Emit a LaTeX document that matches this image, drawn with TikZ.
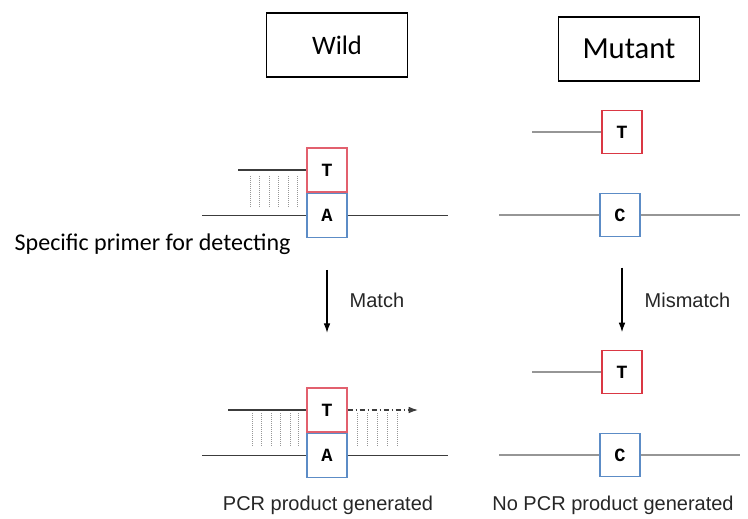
\documentclass[tikz,border=0pt]{standalone}
\usepackage{fontspec}
\usetikzlibrary{arrows.meta, positioning}
\newfontfamily\calfont{Carlito}
\newfontfamily\helfont{Liberation Sans}
\newfontfamily\courfont{Liberation Mono}
\definecolor{wildred}{RGB}{226, 96, 110}
\definecolor{mutantred}{RGB}{218, 56, 68}
\definecolor{baseblue}{RGB}{92, 140, 198}
\definecolor{strand}{RGB}{60, 60, 60}
\definecolor{mutgray}{RGB}{150, 150, 150}
\definecolor{hbond}{RGB}{150, 150, 150}

\begin{document}
\begin{tikzpicture}[
    x=0.75pt, y=-0.75pt,
    title/.style={
        rectangle, draw, line width=0.8pt,
        minimum width=106pt, minimum height=48pt
    },
    basebox/.style={
        rectangle, draw, fill=white, line width=0.9pt, inner sep=0pt,
        minimum width=30pt, minimum height=33pt,
        font=\courfont\bfseries\fontsize{14}{16}\selectfont
    },
    lbl/.style={font=\helfont\fontsize{15}{18}\selectfont, text=black!85},
    wline/.style={strand, line width=0.9pt},
    mline/.style={mutgray, line width=1pt},
    bond/.style={hbond, densely dotted, line width=0.5pt},
    flow/.style={-{Latex[length=7pt,width=5pt]}, line width=0.8pt}
]
    \useasboundingbox (0,0) rectangle (748,518);

    % headings
    \node[title, font=\calfont\fontsize{20}{24}\selectfont] (wild)   at (337,45) {Wild};
    \node[title, font=\calfont\fontsize{23}{27}\selectfont] (mutant) at (629,49) {Mutant};

    % wild type, before
    \node[basebox, draw=wildred]  (wT1) at (327,170) {T};
    \node[basebox, draw=baseblue, below=0pt of wT1] (wA1) {A};
    \coordinate (wP1) at (238,0 |- wT1);
    \coordinate (wL1) at (202,0 |- wA1);
    \coordinate (wR1) at (448,0 |- wA1);
    \draw[wline] (wP1) -- (wT1);
    \draw[wline] (wL1) -- (wA1);
    \draw[wline] (wA1) -- (wR1);
    \foreach \x in {250,259.5,269,278.5,288,297.5}
        \draw[bond] (\x,176) -- (\x,207);

    \node[font=\calfont\fontsize{18}{22}\selectfont, anchor=west] (primer) at (10,244) {Specific primer for detecting};

    % wild type, after
    \node[basebox, draw=wildred]  (wT2) at (327,410) {T};
    \node[basebox, draw=baseblue, below=0pt of wT2] (wA2) {A};
    \coordinate (wP2) at (228,0 |- wT2);
    \coordinate (wE2) at (418,0 |- wT2);
    \coordinate (wL2) at (202,0 |- wA2);
    \coordinate (wR2) at (448,0 |- wA2);
    \draw[wline] (wP2) -- (wT2);
    \draw[wline, -{Latex[length=7pt,width=5pt]}, dash pattern=on 4pt off 2pt on 1pt off 2pt] (wT2) -- (wE2);
    \draw[wline] (wL2) -- (wA2);
    \draw[wline] (wA2) -- (wR2);
    \foreach \x in {252,261.5,271,280.5,290,298}
        \draw[bond] (\x,413) -- (\x,447);
    \foreach \x in {357,367,377,387,397}
        \draw[bond] (\x,413) -- (\x,447);

    \draw[flow, shorten <=24pt, shorten >=41pt] (wA1.south) -- (wT2.north);
    \node[lbl, anchor=west] (match) at (345,300) {Match};
    \node[lbl] (pcr) at (328,505) {PCR product generated};

    % mutant, before
    \node[basebox, draw=mutantred, minimum height=32pt] (mT1) at (622,132) {T};
    \node[basebox, draw=baseblue, minimum height=32pt]  (mC1) at (620,215) {C};
    \coordinate (mP1) at (532,0 |- mT1);
    \coordinate (mL1) at (499,0 |- mC1);
    \coordinate (mR1) at (740,0 |- mC1);
    \draw[mline] (mP1) -- (mT1);
    \draw[mline] (mL1) -- (mC1);
    \draw[mline] (mC1) -- (mR1);

    % mutant, after
    \node[basebox, draw=mutantred, minimum height=32pt] (mT2) at (622,372) {T};
    \node[basebox, draw=baseblue, minimum height=32pt]  (mC2) at (620,455) {C};
    \coordinate (mP2) at (532,0 |- mT2);
    \coordinate (mL2) at (499,0 |- mC2);
    \coordinate (mR2) at (740,0 |- mC2);
    \draw[mline] (mP2) -- (mT2);
    \draw[mline] (mL2) -- (mC2);
    \draw[mline] (mC2) -- (mR2);

    \draw[flow, shorten <=23pt, shorten >=13.5pt] (mC1.south -| 622,0) -- (mT2.north -| 622,0);
    \node[lbl, anchor=west] (mismatch) at (640,300) {Mismatch};
    \node[lbl] (nopcr) at (613,505) {No PCR product generated};
\end{tikzpicture}
\end{document}
